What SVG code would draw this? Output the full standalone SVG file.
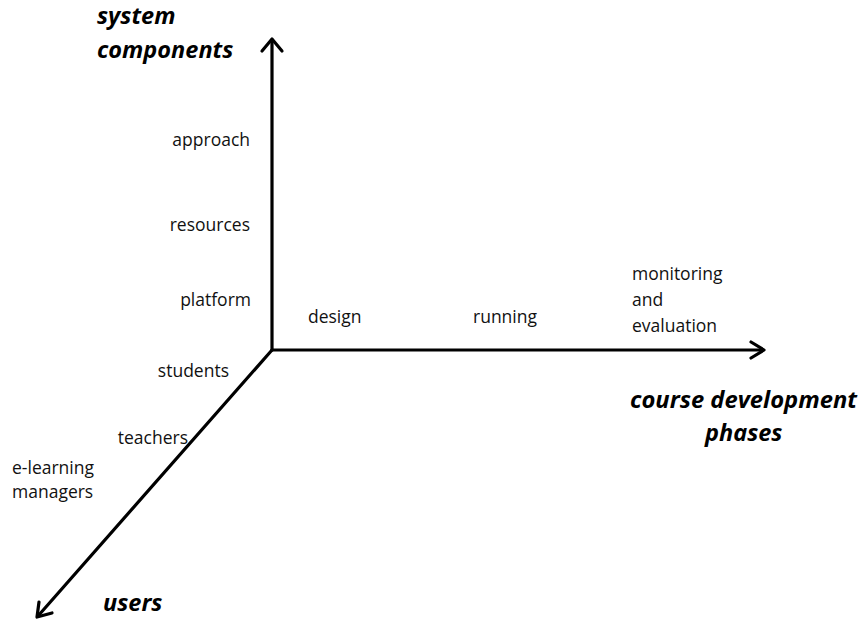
<svg xmlns="http://www.w3.org/2000/svg" width="859" height="621" viewBox="0 0 859 621">
<style>
.lbl{font-family:"Open Sans","Liberation Sans",sans-serif;font-size:17.5px;fill:#111}
.ttl{font-family:"Open Sans","Liberation Sans",sans-serif;font-size:23.5px;font-weight:bold;font-style:italic;fill:#000}
.ax{stroke:#000;stroke-width:3.2;fill:none;stroke-linecap:round;stroke-linejoin:round}
</style>
<rect width="859" height="621" fill="#fff"/>
<g id="connectors">
<path class="ax" d="M272,350 V40"/>
<polyline class="ax" points="262,51 272,39 282,51"/>
<path class="ax" d="M272,350 H763"/>
<polyline class="ax" points="751,342 764,350 751,358"/>
<path class="ax" d="M272,350 L38,616"/>
<polyline class="ax" points="52,613 37,617 39,602"/>
</g>
<g id="axis-system-components">
<text class="ttl" x="97" y="24">system</text>
<text class="ttl" x="97" y="58">components</text>
</g>
<g id="axis-course-phases">
<text class="ttl" x="630" y="408" textLength="227" lengthAdjust="spacingAndGlyphs">course development</text>
<text class="ttl" x="705" y="441">phases</text>
</g>
<g id="axis-users">
<text class="ttl" x="103" y="611">users</text>
</g>
<g id="approach"><text class="lbl" x="250" y="146" text-anchor="end">approach</text></g>
<g id="resources"><text class="lbl" x="250" y="231" text-anchor="end">resources</text></g>
<g id="platform"><text class="lbl" x="251" y="306" text-anchor="end">platform</text></g>
<g id="students"><text class="lbl" x="229" y="377" text-anchor="end">students</text></g>
<g id="teachers"><text class="lbl" x="188" y="444" text-anchor="end">teachers</text></g>
<g id="e-learning-managers">
<text class="lbl" x="12" y="474">e-learning</text>
<text class="lbl" x="12" y="498">managers</text>
</g>
<g id="design"><text class="lbl" x="308" y="323">design</text></g>
<g id="running"><text class="lbl" x="473" y="323">running</text></g>
<g id="monitoring-evaluation">
<text class="lbl" x="632" y="280">monitoring</text>
<text class="lbl" x="632" y="306">and</text>
<text class="lbl" x="632" y="332">evaluation</text>
</g>
</svg>
